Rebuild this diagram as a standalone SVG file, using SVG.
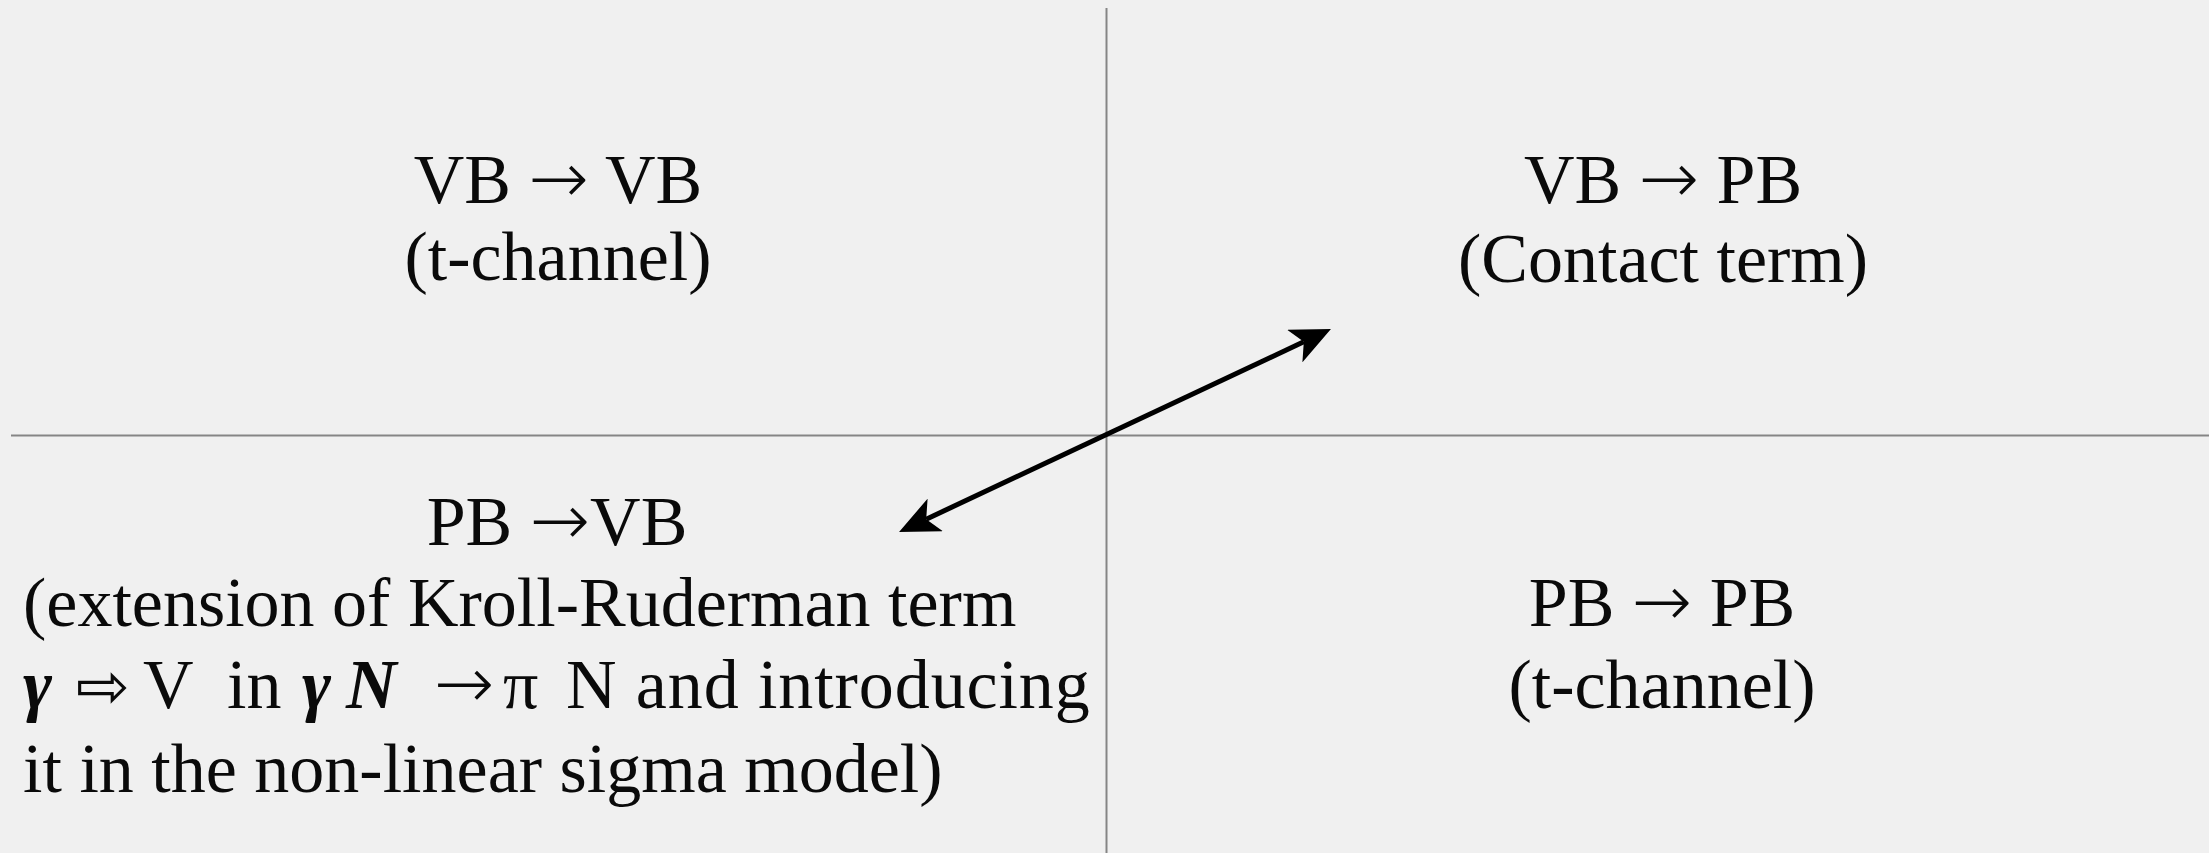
<svg xmlns="http://www.w3.org/2000/svg" width="2209" height="853" viewBox="0 0 2209 853">
<style>
text{font-family:"Liberation Serif","Times New Roman",serif;font-size:70px;fill:#0a0a0a}
.c{text-anchor:middle}
.bi{font-style:italic;font-weight:bold}
.ar{font-family:"DejaVu Sans",sans-serif;font-weight:200;font-size:72px}
.wa{font-family:"DejaVu Sans",sans-serif;font-size:64px}
.axis{stroke:#858585;stroke-width:2;fill:none}
.conn{stroke:#000;stroke-width:5;fill:none}
</style>
<defs>
<marker id="ah" viewBox="0 0 40 36" refX="10" refY="18" markerWidth="40" markerHeight="36" markerUnits="userSpaceOnUse" orient="auto-start-reverse">
<path d="M0,0 L40,18 L0,36 L10,18 Z" fill="#000"/>
</marker>
</defs>
<rect width="2209" height="853" fill="#f0f0f0"/>
<g id="axes">
<line class="axis" x1="1106.5" y1="8" x2="1106.5" y2="853"/>
<line class="axis" x1="11" y1="435.5" x2="2209" y2="435.5"/>
</g>
<g id="vb-vb">
<text class="c" x="558" y="203">VB <tspan class="ar">→</tspan> VB</text>
<text class="c" x="558" y="280">(t-channel)</text>
</g>
<g id="vb-pb">
<text class="c" x="1663" y="203">VB <tspan class="ar">→</tspan> PB</text>
<text class="c" x="1663" y="282">(Contact term)</text>
</g>
<g id="pb-pb">
<text class="c" x="1662" y="626">PB <tspan class="ar">→</tspan> PB</text>
<text class="c" x="1662" y="708">(t-channel)</text>
</g>
<g id="pb-vb">
<text class="c" x="557" y="545">PB <tspan class="ar">→</tspan>VB</text>
<text x="23" y="626">(extension of Kroll-Ruderman term</text>
<text y="708"><tspan class="bi" x="23">γ</tspan><tspan class="wa" x="76">⇨</tspan><tspan x="143">V</tspan><tspan x="227">in</tspan><tspan class="bi" x="302">γ</tspan><tspan class="bi" x="346">N</tspan><tspan class="ar" x="434">→</tspan><tspan x="503">π</tspan><tspan x="566" letter-spacing="0.9">N and introducing</tspan></text>
<text x="23" y="792">it in the non-linear sigma model)</text>
</g>
<g id="connectors">
<path class="conn" d="M926.2,519.2 L1303.8,341.8" marker-start="url(#ah)" marker-end="url(#ah)"/>
</g>
</svg>
